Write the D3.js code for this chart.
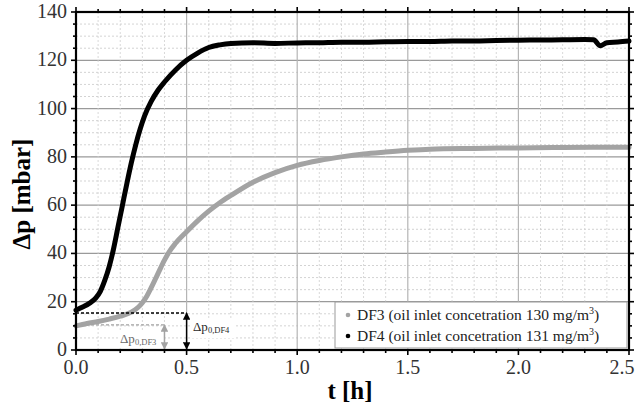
<!DOCTYPE html>
<html><head><meta charset="utf-8">
<script src="https://cdn.jsdelivr.net/npm/d3@7"></script>
<style>body{margin:0;background:#fff}svg{display:block}</style>
</head><body>
<svg id="c" width="639" height="407"></svg>
<script>
// ---- data ----
const df4T = [0,0.03,0.06,0.09,0.11,0.13,0.15,0.17,0.19,0.21,0.23,0.25,0.27,0.29,0.31,0.34,0.37,0.4,0.45,0.5,0.55,0.6,0.65,0.7,0.8,0.9,1.0,1.1,1.2,1.3,1.4,1.5,1.6,1.7,1.8,1.9,2.0,2.1,2.2,2.3,2.34,2.37,2.4,2.45,2.5];
const df4V = [16.5,17.8,19.3,21.6,24.3,28.8,34.5,42,51,60,69,77.5,85,91.5,97,103,107.5,111,116,120,123,125.3,126.4,127,127.3,127,127.2,127.3,127.5,127.5,127.7,127.8,127.8,128,128,128.2,128.3,128.4,128.5,128.6,128.5,126,127.3,127.6,128];
const df3T = [0,0.05,0.1,0.15,0.2,0.25,0.28,0.3,0.32,0.34,0.36,0.38,0.4,0.42,0.45,0.5,0.55,0.6,0.65,0.7,0.8,0.9,1.0,1.1,1.2,1.3,1.4,1.5,1.6,1.8,2.0,2.2,2.4,2.5];
const df3V = [10,11,11.8,12.8,14,15.7,17.6,19.6,22.3,25.8,29.6,33.5,37.2,40.5,44.2,49,53.5,57.5,61,64,69.5,73.5,76.5,78.5,80,81.2,82,82.7,83.2,83.5,83.7,83.9,84,84];
const seriesNames = ["DF3 (oil inlet concetration 130 mg/m", "DF4 (oil inlet concetration 131 mg/m"];
const xTicks = [0,0.5,1.0,1.5,2.0,2.5];
const yTicks = [0,20,40,60,80,100,120,140];
const dp0DF4 = 15.3, dp0DF3 = 10.4, tDF4 = 0.5, tDF3 = 0.4;

// ---- layout ----
const svg = d3.select("#c");
const L = 76, R = 629, T = 12, B = 350;
const x = d3.scaleLinear().domain([0,2.5]).range([L,R]);
const y = d3.scaleLinear().domain([0,140]).range([B,T]);
const font = "'Liberation Serif','Times New Roman',serif";
const gray = "#a3a3a3";

// grid
const g = svg.append("g");
d3.range(0,140.01,5).forEach(v=>{
  const major = v%20===0;
  g.append("line").attr("x1",L).attr("x2",R).attr("y1",y(v)).attr("y2",y(v))
   .attr("stroke", major?"#9a9a9a":"#c8c8c8").attr("stroke-width", major?1.3:0.8)
   .attr("stroke-dasharray", major?null:"2,2");
});
d3.range(0,2.501,0.1).forEach(v=>{
  const major = Math.abs(v*2-Math.round(v*2))<1e-6;
  g.append("line").attr("x1",x(v)).attr("x2",x(v)).attr("y1",T).attr("y2",B)
   .attr("stroke", major?"#b5b5b5":"#cfcfcf").attr("stroke-width", major?1.2:0.8)
   .attr("stroke-dasharray", major?null:"2,2");
});

// annotation label backgrounds
svg.append("rect").attr("x",118).attr("y",330).attr("width",44).attr("height",17).attr("fill","#fff");
svg.append("rect").attr("x",190).attr("y",318).attr("width",46).attr("height",20).attr("fill","#fff");

// series
const line = d3.line().x(d=>x(d[0])).y(d=>y(d[1])).curve(d3.curveMonotoneX);
svg.append("path").datum(df3T.map((t,i)=>[t,df3V[i]])).attr("d",line)
  .attr("fill","none").attr("stroke",gray).attr("stroke-width",5).attr("stroke-linecap","round");
svg.append("path").datum(df4T.map((t,i)=>[t,df4V[i]])).attr("d",line)
  .attr("fill","none").attr("stroke","#000").attr("stroke-width",5).attr("stroke-linecap","round");

// annotations
svg.append("line").attr("x1",L).attr("x2",x(tDF4)).attr("y1",y(dp0DF4)).attr("y2",y(dp0DF4))
  .attr("stroke","#000").attr("stroke-width",1.6).attr("stroke-dasharray","3,2");
svg.append("line").attr("x1",L).attr("x2",x(tDF3)).attr("y1",y(dp0DF3)).attr("y2",y(dp0DF3))
  .attr("stroke",gray).attr("stroke-width",1.4).attr("stroke-dasharray","3,2");
const defs = svg.append("defs");
function marker(id,col){
  defs.append("marker").attr("id",id).attr("viewBox","0 0 10 10").attr("refX",9).attr("refY",5)
    .attr("markerWidth",5).attr("markerHeight",5).attr("orient","auto-start-reverse")
    .append("path").attr("d","M0,0L10,5L0,10z").attr("fill",col);
}
marker("ab","#000"); marker("ag",gray);
svg.append("line").attr("x1",x(tDF4)).attr("x2",x(tDF4)).attr("y1",y(dp0DF4)).attr("y2",y(0)-1)
  .attr("stroke","#000").attr("stroke-width",1.5).attr("marker-start","url(#ab)").attr("marker-end","url(#ab)");
svg.append("line").attr("x1",x(tDF3)).attr("x2",x(tDF3)).attr("y1",y(dp0DF3)).attr("y2",y(0)-1)
  .attr("stroke",gray).attr("stroke-width",1.5).attr("marker-start","url(#ag)").attr("marker-end","url(#ag)");
function dpLabel(xp,yp,sub,col){
  const t = svg.append("text").attr("x",xp).attr("y",yp).attr("font-family",font).attr("font-size",13).attr("fill",col);
  t.append("tspan").text("Δp");
  t.append("tspan").attr("font-size",8.5).attr("dy",2).text(sub);
}
dpLabel(120,343,"0,DF3","#6a6a6a");
dpLabel(193,331,"0,DF4","#2a2a2a");

// frame
svg.append("rect").attr("x",L).attr("y",T).attr("width",R-L).attr("height",B-T)
  .attr("fill","none").attr("stroke","#000").attr("stroke-width",2.2);

// ticks
const tk = svg.append("g").attr("stroke","#000");
d3.range(0,140.01,5).forEach(v=>{
  const len = v%20===0?5:3;
  tk.append("line").attr("x1",L-len).attr("x2",L).attr("y1",y(v)).attr("y2",y(v)).attr("stroke-width",1.6);
  tk.append("line").attr("x1",R).attr("x2",R+len).attr("y1",y(v)).attr("y2",y(v)).attr("stroke-width",1.6);
});
d3.range(0,2.501,0.1).forEach(v=>{
  const len = Math.abs(v*2-Math.round(v*2))<1e-6?5:3;
  tk.append("line").attr("x1",x(v)).attr("x2",x(v)).attr("y1",B).attr("y2",B+len).attr("stroke-width",1.6);
  tk.append("line").attr("x1",x(v)).attr("x2",x(v)).attr("y1",T-len).attr("y2",T).attr("stroke-width",1.6);
});

// tick labels
svg.selectAll(".xl").data(xTicks).enter().append("text")
  .attr("x",d=>Math.min(x(d),622)).attr("y",374).attr("text-anchor","middle")
  .attr("font-family",font).attr("font-size",20).attr("fill","#333").text(d=>d.toFixed(1));
svg.selectAll(".yl").data(yTicks).enter().append("text")
  .attr("x",L-9).attr("y",d=>y(d)+6).attr("text-anchor","end")
  .attr("font-family",font).attr("font-size",20).attr("fill","#333").text(d=>d);

// axis titles
svg.append("text").attr("x",350).attr("y",399).attr("text-anchor","middle")
  .attr("font-family",font).attr("font-weight","bold").attr("font-size",25).text("t [h]");
svg.append("text").attr("transform","translate(30,194) rotate(-90)").attr("text-anchor","middle")
  .attr("font-family",font).attr("font-weight","bold").attr("font-size",25).text("Δp [mbar]");

// legend
const lg = svg.append("g");
lg.append("rect").attr("x",335).attr("y",302).attr("width",292).attr("height",46)
  .attr("fill","#fff").attr("stroke","#999").attr("stroke-width",1);
[[gray,320],["#000",341]].forEach((c,i)=>{
  lg.append("circle").attr("cx",348).attr("cy",c[1]-5).attr("r",2.3).attr("fill",c[0]);
  const t = lg.append("text").attr("x",357).attr("y",c[1]).attr("font-family",font).attr("font-size",15.5).attr("fill","#222");
  t.append("tspan").text(seriesNames[i]);
  t.append("tspan").attr("font-size",10).attr("dy",-6).text("3");
  t.append("tspan").attr("dy",6).text(")");
});
</script>
</body></html>
